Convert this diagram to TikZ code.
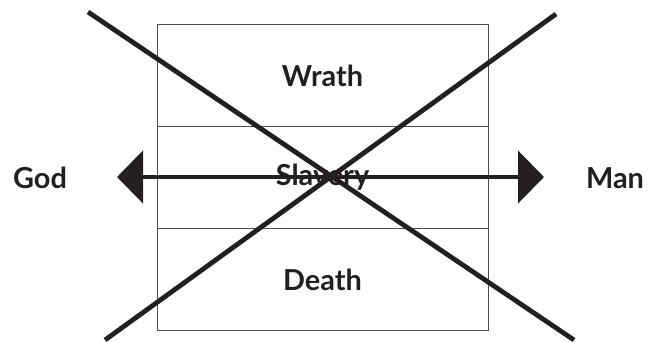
\documentclass[tikz,border=0pt]{standalone}
\usepackage{fontspec}
\setmainfont{Lato}
\usetikzlibrary{arrows.meta,positioning}
\definecolor{ink}{HTML}{231F20}
\definecolor{frame}{HTML}{4D4D4F}

\begin{document}
\begin{tikzpicture}[x=1bp, y=-1bp, font=\bfseries\fontsize{29}{34}\selectfont, ink,
    row/.style={draw=frame, line width=0.9bp, minimum width=331bp, minimum height=102bp, inner sep=0pt, outer sep=0pt},
    side/.style={inner sep=0pt},
    cross/.style={line width=4.8bp, draw=ink},
    pull/.style={{Triangle[length=26bp, width=52bp]}-{Triangle[length=26bp, width=52bp]}, line width=4.8bp, draw=ink},
  ]
% --- Frame of the page ---------------------------------------------------------------
\useasboundingbox (0,0) rectangle (653,341);

% --- Stack of three states -----------------------------------------------------------
\node[row] (wrath) at (322.5,75.5) {Wrath};
\node[row, below=0pt of wrath] (slavery) {Slavery};
\node[row, below=0pt of slavery] (death) {Death};

% --- The two ends --------------------------------------------------------------------
\node[side] (god) at (40,178) {God};
\node[side] (man) at (615,178) {Man};

% --- Struck through ------------------------------------------------------------------
\coordinate (tl) at (88,12);
\coordinate (br) at (574,340);
\coordinate (tr) at (556,14);
\coordinate (bl) at (105,340);
\draw[cross] (tl) -- (br);
\draw[cross] (tr) -- (bl);

\coordinate (godtip) at (117,177);
\coordinate (mantip) at (544,177);
\draw[pull] (godtip) -- (mantip);
\end{tikzpicture}
\end{document}
